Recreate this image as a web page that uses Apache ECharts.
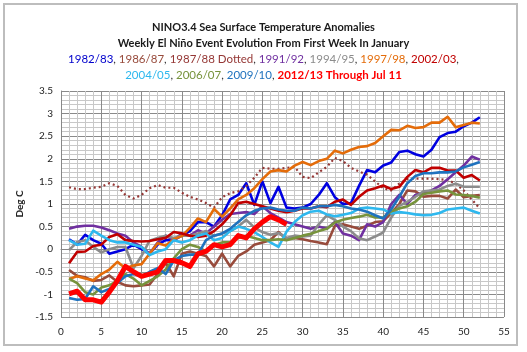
<!DOCTYPE html>
<html>
<head>
<meta charset="utf-8">
<script src="https://cdn.jsdelivr.net/npm/echarts@6/dist/echarts.min.js"></script>
<style>
  html, body { margin: 0; padding: 0; background: #fff; }
  #nino { width: 527px; height: 352px; }
</style>
</head>
<body>
<div id="nino"></div>
<script>
// weekly anomalies, deg C, week 1 = first week of January
var weeks = [];
for (var i = 1; i <= 52; i++) weeks.push(i);

var s1982 = [0.22, 0.1, 0.32, 0.2, 0.12, -0.1, -0.05, 0.0, 0.1, 0.0,
  -0.1, 0.1, 0.2, 0.2, 0.3, 0.4, 0.6, 0.6, 0.5, 0.75,
  1.1, 1.2, 1.46, 0.98, 1.5, 1.02, 1.38, 0.92, 0.9, 0.92,
  1.0, 1.2, 1.46, 1.15, 1.0, 1.02, 1.4, 1.75, 1.7, 1.85,
  1.92, 2.15, 2.18, 2.1, 2.05, 2.2, 2.48, 2.57, 2.6, 2.72, 2.8, 2.92];
var s1986 = [-0.46, -0.59, -0.62, -0.7, -0.68, -0.58, -0.72, -0.8, -0.82, -0.8,
  -0.78, -0.55, -0.3, -0.6, -0.1, -0.05, -0.1, -0.15, -0.38, -0.1,
  -0.38, -0.15, -0.05, 0.1, 0.15, 0.2, 0.38, 0.22, 0.25, 0.22,
  0.18, 0.15, 0.11, 0.52, 0.55, 0.5, 0.45, 0.52, 0.6, 0.62,
  0.8, 1.0, 1.3, 1.28, 1.16, 1.18, 1.18, 1.12, 1.32, 1.15, 1.18, 1.2];
var s1987 = [1.37, 1.33, 1.33, 1.36, 1.38, 1.46, 1.4, 1.2, 1.12, 1.2,
  1.35, 1.42, 1.36, 1.36, 1.25, 1.16, 1.1, 1.02, 0.92, 1.15,
  1.24, 1.28, 1.4, 1.58, 1.8, 1.78, 1.78, 1.8, 1.82, 1.6,
  1.57, 1.7, 1.82, 2.02, 1.95, 1.8, 1.72, 1.65, 1.5, 1.35,
  1.3, 1.45, 1.55, 1.56, 1.56, 1.56, 1.55, 1.53, 1.45, 1.3, 1.1, 0.9];
var s1991 = [0.45, 0.5, 0.52, 0.52, 0.48, 0.42, 0.35, 0.3, 0.15, 0.05,
  -0.1, 0.15, 0.3, 0.2, 0.35, 0.3, 0.42, 0.35, 0.5, 0.65,
  0.78, 0.8, 0.82, 0.78, 0.95, 0.8, 0.7, 0.6, 0.55, 0.5,
  0.45, 0.5, 0.45, 0.6, 0.35, 0.3, 0.2, 0.55, 0.5, 0.6,
  1.0, 1.2, 1.0, 1.2, 1.25, 1.3, 1.4, 1.55, 1.7, 1.85, 2.05, 1.98];
var s1994 = [-0.02, 0.16, 0.2, 0.05, -0.07, 0.0, 0.05, 0.05, -0.42, -0.15,
  0.19, 0.25, 0.3, 0.25, 0.3, 0.3, 0.35, 0.4, 0.3, 0.35,
  0.4, 0.5, 0.65, 0.48, 0.38, 0.32, 0.36, 0.25, 0.3, 0.28,
  0.3, 0.55, 0.75, 0.65, 0.5, 0.4, 0.24, 0.2, 0.28, 0.37,
  0.7, 0.96, 1.05, 1.16, 1.28, 1.3, 1.32, 1.4, 1.45, 1.38, 1.38, 1.38];
var s1997 = [-0.66, -0.6, -0.65, -0.69, -0.55, -0.45, -0.28, -0.42, -0.36, -0.33,
  -0.1, 0.13, 0.08, 0.22, 0.29, 0.47, 0.68, 0.6, 0.89, 0.72,
  0.9, 1.1, 1.2, 1.35, 1.55, 1.72, 1.75, 1.72, 1.85, 1.93,
  1.86, 1.95, 2.0, 2.18, 2.12, 2.2, 2.26, 2.28, 2.35, 2.5,
  2.64, 2.63, 2.73, 2.68, 2.7, 2.8, 2.8, 2.93, 2.7, 2.75, 2.8, 2.78];
var s2002 = [-0.31, -0.06, -0.05, 0.07, 0.1, 0.27, 0.33, 0.2, 0.18, 0.17,
  0.18, 0.22, 0.25, 0.38, 0.35, 0.3, 0.27, 0.3, 0.4, 0.55,
  0.75, 1.02, 1.05, 1.0, 0.95, 0.9, 0.85, 0.82, 0.85, 0.9,
  0.9, 0.95, 0.93, 1.05, 1.1, 0.98, 1.16, 1.3, 1.35, 1.41,
  1.33, 1.38, 1.6, 1.75, 1.7, 1.8, 1.8, 1.74, 1.74, 1.58, 1.64, 1.52];
var s2004 = [0.2, 0.1, 0.12, 0.41, 0.3, 0.2, 0.15, 0.15, 0.1, 0.05,
  -0.13, -0.05, 0.0, 0.2, 0.15, 0.2, 0.3, 0.35, 0.2, 0.25,
  0.4, 0.5, 0.45, 0.38, 0.27, 0.15, 0.05, 0.39, 0.6, 0.75,
  0.83, 0.85, 0.77, 0.73, 0.76, 0.8, 0.9, 0.92, 0.9, 0.88,
  0.79, 0.82, 0.8, 0.77, 0.75, 0.76, 0.8, 0.88, 0.9, 0.92, 0.85, 0.79];
var s2006 = [-0.65, -0.75, -0.95, -1.0, -0.85, -0.8, -0.7, -0.55, -0.65, -0.8,
  -0.7, -0.6, -0.45, -0.2, 0.0, 0.1, 0.05, -0.05, 0.1, 0.15,
  0.15, 0.25, 0.3, 0.25, 0.2, 0.2, 0.22, 0.2, 0.25, 0.3,
  0.34, 0.4, 0.45, 0.59, 0.65, 0.69, 0.72, 0.76, 0.7, 0.7,
  0.84, 0.9, 0.95, 1.05, 1.22, 1.25, 1.28, 1.3, 1.21, 1.2, 1.18, 1.14];
var s2009 = [-1.08, -1.12, -1.1, -0.82, -0.95, -0.88, -0.75, -0.6, -0.55, -0.6,
  -0.5, -0.42, -0.55, -0.25, -0.15, -0.12, -0.12, 0.2, 0.3, 0.35,
  0.45, 0.6, 0.75, 0.85, 0.9, 0.92, 0.88, 0.85, 0.85, 0.92,
  0.9, 0.95, 0.95, 0.98, 0.95, 0.9, 0.88, 0.83, 0.75, 0.68,
  0.88, 1.16, 1.46, 1.62, 1.68, 1.68, 1.7, 1.7, 1.72, 1.81, 1.87, 1.93];
var s2012 = [-0.99, -0.93, -1.12, -1.12, -1.17, -0.95, -0.7, -0.38, -0.5, -0.6,
  -0.55, -0.5, -0.25, -0.25, -0.3, -0.38, -0.1, -0.05, 0.1, 0.05,
  0.1, 0.3, 0.25, 0.45, 0.6, 0.72, 0.65, 0.55];

var xTicks = [0, 5, 10, 15, 20, 25, 30, 35, 40, 45, 50, 55];
var yTicks = [-1.5, -1, -0.5, 0, 0.5, 1, 1.5, 2, 2.5, 3, 3.5];

var seasons = [
  { name: '1982/83', data: s1982, color: '#0000E0' },
  { name: '1986/87', data: s1986, color: '#984B3C' },
  { name: '1987/88', data: s1987, color: '#953735', dotted: true },
  { name: '1991/92', data: s1991, color: '#7030A0' },
  { name: '1994/95', data: s1994, color: '#8C8C8C' },
  { name: '1997/98', data: s1997, color: '#E46C0A' },
  { name: '2002/03', data: s2002, color: '#C00000' },
  { name: '2004/05', data: s2004, color: '#2EB8EE' },
  { name: '2006/07', data: s2006, color: '#77933C' },
  { name: '2009/10', data: s2009, color: '#1F72BE' },
  { name: '2012/13', data: s2012, color: '#FF0000', width: 5 }
];

var seriesList = seasons.map(function (s) {
  return {
    name: s.name,
    type: 'line',
    showSymbol: false,
    silent: true,
    animation: false,
    data: s.data.map(function (v, k) { return [weeks[k], v]; }),
    lineStyle: {
      color: s.color,
      width: s.width || (s.dotted ? 2.2 : 2.6),
      type: s.dotted ? [2, 3] : 'solid',
      join: 'round'
    }
  };
});

var titleText =
  '{t|NINO3.4 Sea Surface Temperature Anomalies}\n' +
  '{t|Weekly El Niño Event Evolution From First Week In January}\n' +
  '{a|1982/83}{k|, }{b|1986/87}{k|, }{c|1987/88 Dotted}{k|, }{d|1991/92}{k|, }' +
  '{e|1994/95}{k|, }{f|1997/98}{k|, }{g|2002/03}{k|,}\n' +
  '{h|2004/05}{k|, }{i|2006/07}{k|, }{j|2009/10}{k|, }{r|2012/13 Through Jul 11}';

function lab(c, bold) {
  return { color: c, fontSize: 11.5, fontWeight: bold ? 'bold' : 'normal', fontFamily: 'Lato', lineHeight: 16 };
}

var chart = echarts.init(document.getElementById('nino'));
chart.setOption({
  backgroundColor: '#fff',
  animation: false,
  graphic: [{
    type: 'rect',
    shape: { x: 4, y: 4, width: 513, height: 341 },
    style: { fill: 'none', stroke: '#BDBDBD', lineWidth: 2 },
    silent: true
  }],
  title: {
    text: titleText,
    left: 'center',
    top: 14,
    textStyle: {
      lineHeight: 16,
      rich: {
        t: { fontSize: 11, fontWeight: 'bold', fontFamily: 'Lato', color: '#1a1a1a', lineHeight: 16 },
        k: lab('#333'),
        a: lab('#0000CC'),
        b: lab('#984B3C'),
        c: lab('#953735'),
        d: lab('#7030A0'),
        e: lab('#8C8C8C'),
        f: lab('#E46C0A'),
        g: lab('#C00000'),
        h: lab('#2EB8EE'),
        i: lab('#77933C'),
        j: lab('#1F72BE'),
        r: lab('#FF0000', true)
      }
    }
  },
  grid: { left: 61, right: 23, top: 91, bottom: 35 },
  xAxis: {
    type: 'value',
    min: xTicks[0],
    max: xTicks[xTicks.length - 1],
    interval: 5,
    axisLine: { lineStyle: { color: '#888' } },
    axisTick: { show: false },
    axisLabel: { color: '#222', fontSize: 10, fontFamily: 'Lato', margin: 10 },
    splitLine: { show: true, lineStyle: { color: '#8a8a8a', width: 1 } },
    minorTick: { show: false, splitNumber: 5 },
    minorSplitLine: { show: true, lineStyle: { color: '#c8c8c8', width: 1 } }
  },
  yAxis: {
    type: 'value',
    min: yTicks[0],
    max: yTicks[yTicks.length - 1],
    interval: 0.5,
    name: 'Deg C',
    nameLocation: 'middle',
    nameGap: 36,
    nameRotate: 90,
    nameTextStyle: { color: '#222', fontSize: 10, fontWeight: 'bold', fontFamily: 'Lato' },
    axisLine: { show: true, lineStyle: { color: '#888' } },
    axisTick: { show: false },
    axisLabel: { color: '#222', fontSize: 10, fontFamily: 'Lato', margin: 8 },
    splitLine: { show: true, lineStyle: { color: '#8a8a8a', width: 1 } },
    minorTick: { show: false, splitNumber: 5 },
    minorSplitLine: { show: true, lineStyle: { color: '#c8c8c8', width: 1 } }
  },
  series: seriesList
});
</script>
</body>
</html>
